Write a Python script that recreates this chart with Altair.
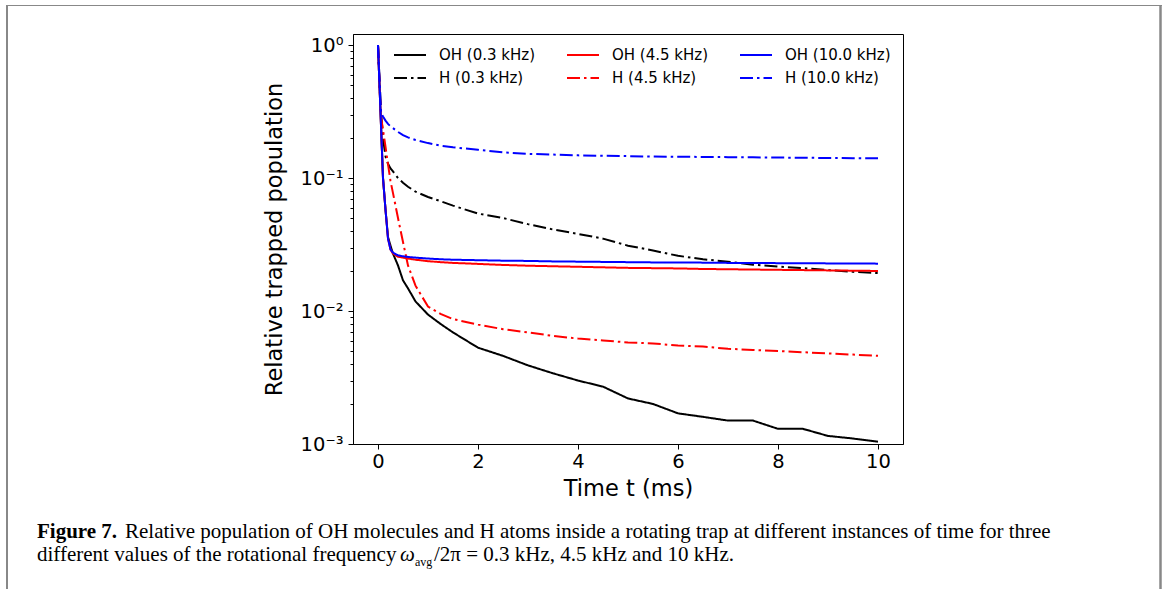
import altair as alt
import pandas as pd

# ---------------- data ----------------
t = [0, 0.03, 0.06, 0.1, 0.15, 0.2, 0.25, 0.3, 0.4, 0.5, 0.6, 0.75, 1.0, 1.25, 1.5,
     2, 2.5, 3, 3.5, 4, 4.5, 5, 5.5, 6, 6.5, 7, 7.5, 8, 8.5, 9, 9.5, 10]

oh_03 = [1.0, 0.5, 0.25, 0.1, 0.058, 0.036, 0.031, 0.027, 0.022, 0.017, 0.0148, 0.0118,
         0.0094, 0.0080, 0.0069, 0.0053, 0.0046, 0.0039, 0.0034, 0.0030, 0.0027, 0.0022,
         0.0020, 0.0017, 0.0016, 0.0015, 0.0015, 0.0013, 0.0013, 0.00115, 0.0011, 0.00104]
h_03 = [1.0, 0.55, 0.32, 0.2, 0.145, 0.128, 0.118, 0.112, 0.1, 0.092, 0.086, 0.079,
        0.072, 0.067, 0.062, 0.054, 0.05, 0.045, 0.041, 0.038, 0.035, 0.031,
        0.0285, 0.026, 0.0245, 0.0235, 0.0223, 0.0216, 0.021, 0.0203, 0.0197, 0.0193]
oh_45 = [1.0, 0.5, 0.25, 0.1, 0.058, 0.035, 0.029, 0.027, 0.0256, 0.0252, 0.0248, 0.0243,
         0.0237, 0.0233, 0.023, 0.0226, 0.0222, 0.0219, 0.0217, 0.0215, 0.0213, 0.0211,
         0.021, 0.0209, 0.0207, 0.0206, 0.0205, 0.0204, 0.0203, 0.0202, 0.0201, 0.0200]
h_45 = [1.0, 0.5, 0.29, 0.23, 0.172, 0.127, 0.095, 0.077, 0.05, 0.033, 0.022, 0.0155,
        0.0108, 0.0095, 0.0087, 0.0079, 0.0073, 0.0069, 0.0065, 0.0062, 0.006, 0.0058,
        0.0057, 0.0055, 0.0054, 0.0052, 0.0051, 0.005, 0.0049, 0.0048, 0.0047, 0.0046]
oh_10 = [1.0, 0.5, 0.25, 0.1, 0.058, 0.035, 0.029, 0.0275, 0.0262, 0.0258, 0.0255, 0.0252,
         0.0248, 0.0245, 0.0243, 0.0241, 0.0239, 0.0238, 0.0236, 0.0235, 0.0234, 0.0233,
         0.0232, 0.0232, 0.0231, 0.0230, 0.0230, 0.0229, 0.0229, 0.0228, 0.0228, 0.0227]
h_10 = [1.0, 0.55, 0.31, 0.29, 0.27, 0.255, 0.245, 0.237, 0.222, 0.21, 0.202, 0.193,
        0.183, 0.175, 0.17, 0.163, 0.156, 0.152, 0.15, 0.148, 0.147, 0.146,
        0.145, 0.1445, 0.144, 0.1435, 0.143, 0.1425, 0.142, 0.1415, 0.141, 0.1405]

# plotting order (matplotlib order); the legend fills column by column in this order
plot_series = ["OH (0.3 kHz)", "H (0.3 kHz)", "OH (4.5 kHz)", "H (4.5 kHz)",
               "OH (10.0 kHz)", "H (10.0 kHz)"]
plot_values = [oh_03, h_03, oh_45, h_45, oh_10, h_10]
series_colors = ["#000000", "#000000", "#ff0000", "#ff0000", "#0000ff", "#0000ff"]
SOLID = [1, 0]
DASHDOT = [13, 4, 2.5, 4]
series_dashes = [SOLID, DASHDOT, SOLID, DASHDOT, SOLID, DASHDOT]

x_ticks = [0, 2, 4, 6, 8, 10]
y_major = [1, 0.1, 0.01, 0.001]
y_minor = [m * d for d in (0.001, 0.01, 0.1) for m in range(2, 10)]
y_labels = {1: "10⁰", 0.1: "10⁻¹", 0.01: "10⁻²", 0.001: "10⁻³"}

caption_bold = ["Figure 7."]
caption_line1 = ["Relative population of OH molecules and H atoms inside a rotating trap at different instances of time for three"]
caption_line2a = ["different values of the rotational frequency"]
caption_omega = ["ω"]
caption_sub = ["avg"]
caption_line2b = ["/2π = 0.3 kHz, 4.5 kHz and 10 kHz."]

rows = []
for name, vals in zip(plot_series, plot_values):
    for i, (tt, vv) in enumerate(zip(t, vals)):
        rows.append({"series": name, "t": tt, "v": vv, "order": i})
df = pd.DataFrame(rows)

W, H = 550, 410
PAD_L, PAD_T = 353, 34

label_expr = " : ".join(
    f"datum.value == {k} ? '{v}'" for k, v in y_labels.items()
) + " : ''"

legend = alt.Legend(
    title=None, orient="none", legendX=40, legendY=12, columns=3,
    symbolType="stroke", symbolSize=1024, symbolStrokeWidth=2,
    labelFontSize=15, labelFont="DejaVu Sans", labelColor="black",
    columnPadding=30, rowPadding=5, labelOffset=12, padding=0,
    clipHeight=18,
)

lines = alt.Chart(df).mark_line(strokeWidth=2, clip=True).encode(
    x=alt.X("t:Q",
            scale=alt.Scale(domain=[-0.5, 10.5], nice=False, zero=False),
            axis=alt.Axis(values=x_ticks, format="d", title="Time t (ms)",
                          grid=False, tickSize=5, labelFontSize=19.5,
                          titleFontSize=22.5, titleFontWeight="normal",
                          labelPadding=3, titlePadding=7, labelFlush=False,
                          domainColor="black", tickColor="black",
                          labelColor="black", titleColor="black")),
    y=alt.Y("v:Q",
            scale=alt.Scale(type="log", domain=[0.001, 1.21], nice=False),
            axis=alt.Axis(values=y_major + y_minor, labelExpr=label_expr,
                          title="Relative trapped population", grid=False,
                          tickSize={"condition": {"test": "indexof([1,0.1,0.01,0.001], datum.value) >= 0", "value": 5}, "value": 3},
                          labelFontSize=19.5, titleFontSize=22.5,
                          titleFontWeight="normal", labelPadding=5,
                          titlePadding=14, labelOverlap=False, labelFlush=False,
                          domainColor="black", tickColor="black",
                          labelColor="black", titleColor="black")),
    color=alt.Color("series:N", scale=alt.Scale(domain=plot_series, range=series_colors),
                    legend=legend),
    strokeDash=alt.StrokeDash("series:N", scale=alt.Scale(domain=plot_series, range=series_dashes),
                              legend=legend),
    detail="series:N",
    order="order:Q",
)

SERIF = "Liberation Serif"
FS = 21


def cap_text(vals, x, y, **kw):
    d = pd.DataFrame({"text": vals})
    return alt.Chart(d).mark_text(align="left", baseline="alphabetic", font=SERIF,
                                  color="black", **kw).encode(
        text="text:N", x=alt.value(x), y=alt.value(y))


cap1 = cap_text(caption_bold, 37 - PAD_L, 538 - PAD_T, fontSize=FS, fontWeight="bold")
cap2 = cap_text(caption_line1, 125 - PAD_L, 538 - PAD_T, fontSize=FS)
cap3 = cap_text(caption_line2a, 37 - PAD_L, 561 - PAD_T, fontSize=FS)
cap4 = cap_text(caption_omega, 400 - PAD_L, 561 - PAD_T, fontSize=FS, fontStyle="italic")
cap5 = cap_text(caption_sub, 415 - PAD_L, 566 - PAD_T, fontSize=12)
cap6 = cap_text(caption_line2b, 434 - PAD_L, 561 - PAD_T, fontSize=FS)

frame_df = pd.DataFrame({"k": [0]})
frame_color = "#888888"
left_rule = alt.Chart(frame_df).mark_rule(color=frame_color, strokeWidth=2).encode(
    x=alt.value(7 - PAD_L), y=alt.value(5 - PAD_T), y2=alt.value(589 - PAD_T))
right_rule = alt.Chart(frame_df).mark_rule(color=frame_color, strokeWidth=2.5).encode(
    x=alt.value(1160.5 - PAD_L), y=alt.value(5 - PAD_T), y2=alt.value(589 - PAD_T))
top_rule = alt.Chart(frame_df).mark_rule(color=frame_color, strokeWidth=1.2).encode(
    x=alt.value(6 - PAD_L), x2=alt.value(1162 - PAD_L), y=alt.value(5.5 - PAD_T))

chart = alt.layer(
    lines, cap1, cap2, cap3, cap4, cap5, cap6, left_rule, right_rule, top_rule
).properties(
    width=W, height=H,
    autosize=alt.AutoSizeParams(type="none"),
    padding={"left": PAD_L, "top": PAD_T, "right": 1165 - PAD_L - W, "bottom": 589 - PAD_T - H},
).configure(
    font="DejaVu Sans",
    background="white",
).configure_view(
    stroke="black", strokeWidth=1,
)

chart.save("out.html", embed_options={"renderer": "svg", "actions": False})
